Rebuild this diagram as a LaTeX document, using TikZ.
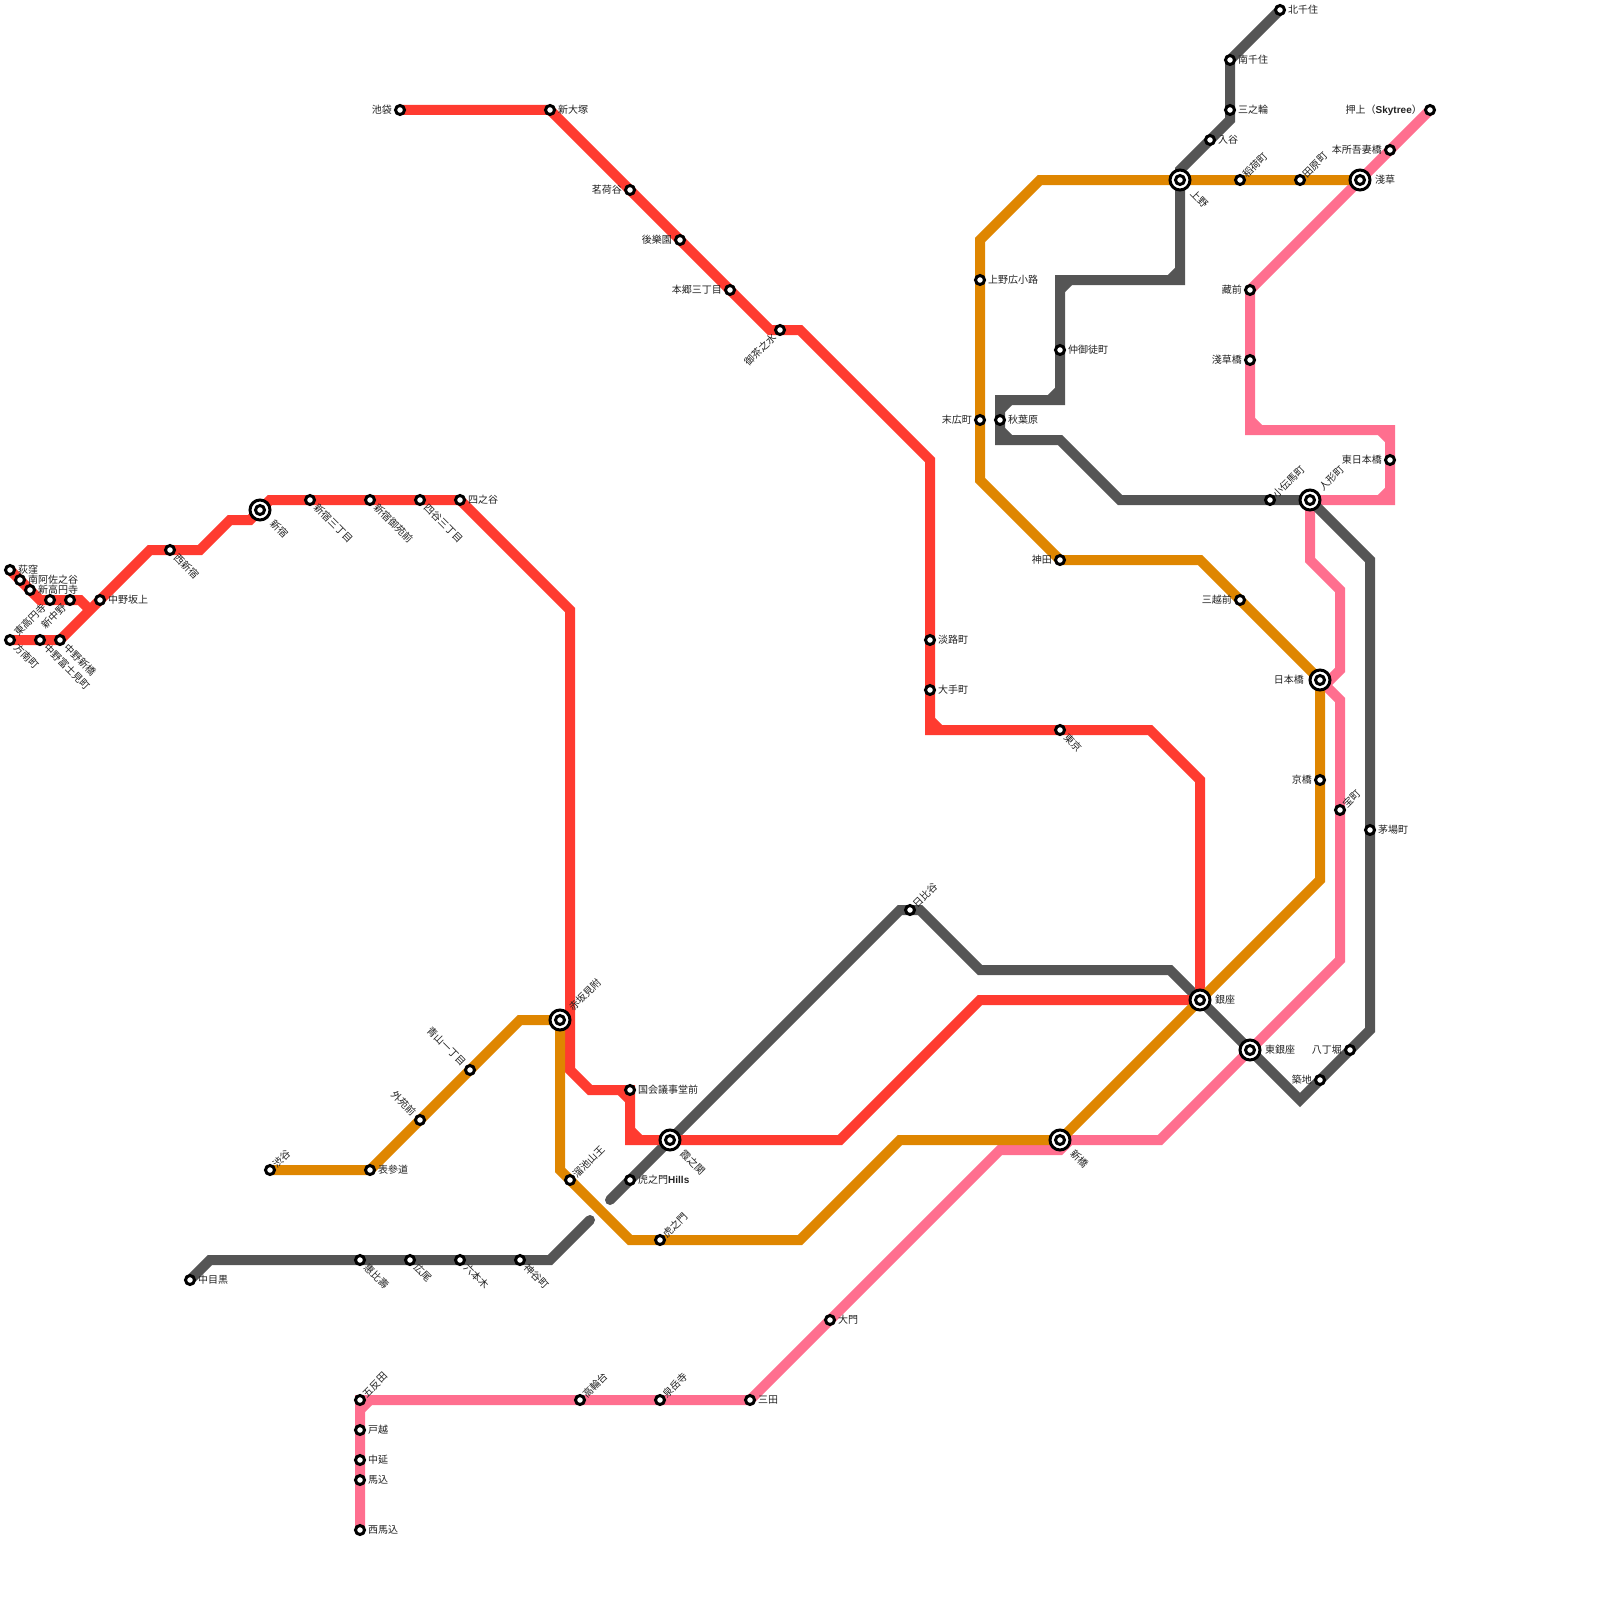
\documentclass[tikz,border=0pt]{standalone}
\usepackage{fontspec}
\setmainfont{Noto Sans CJK JP}
\newfontfamily\latb[BoldFont={Liberation Sans Bold}]{Liberation Sans}
\newcommand{\bl}[1]{{\latb\bfseries #1}}
\usetikzlibrary{backgrounds}
\definecolor{redline}{HTML}{FF3B30}
\definecolor{orangeline}{HTML}{DF8600}
\definecolor{grayline}{HTML}{555555}
\definecolor{pinkline}{HTML}{FF6F8F}
\definecolor{lbltext}{HTML}{222222}
\tikzset{
  line/.style={line width=10pt,line join=miter,line cap=butt},
  rl/.style={line,draw=redline},
  ol/.style={line,draw=orangeline},
  gl/.style={line,draw=grayline},
  pl/.style={line,draw=pinkline},
  stn/.style={circle,draw=black,fill=white,line width=3pt,minimum size=9pt,inner sep=0pt,outer sep=0pt},
  big/.style={circle,draw=black,fill=white,line width=3pt,minimum size=20pt,inner sep=0pt,outer sep=0pt},
  lbl/.style={inner sep=0pt,text=lbltext,font=\fontsize{10}{12}\selectfont},
  R/.style={lbl,anchor=west,xshift=8pt},
  L/.style={lbl,anchor=east,xshift=-8pt},
  UR/.style={lbl,rotate=45,anchor=west,xshift=6pt},
  DR/.style={lbl,rotate=-45,anchor=west,xshift=8pt},
  UL/.style={lbl,rotate=-45,anchor=east,xshift=-8pt},
  BL/.style={lbl,rotate=45,anchor=east,xshift=-8pt},
  bR/.style={lbl,anchor=west,xshift=15pt},
  bL/.style={lbl,anchor=east,xshift=-16pt},
  bUR/.style={lbl,rotate=45,anchor=west,xshift=15pt},
  bDR/.style={lbl,rotate=-45,anchor=west,xshift=17pt},
}
\newcommand{\st}[5]{\node[stn] (#1) at (#2,#3) {}; \node[#4] (#1-t) at (#1.center) {#5};}
\newcommand{\bg}[5]{\node[big] (#1) at (#2,#3) {}; \node[stn] (#1-i) at (#1.center) {}; \node[#4] (#1-t) at (#1.center) {#5};}
\begin{document}
\begin{tikzpicture}[x=1pt,y=-1pt]
\useasboundingbox (0,0) rectangle (1600,1600);
% interchange stations
\bg{shinjuku}{260}{510}{bDR}{新宿}
\bg{akasaka}{560}{1020}{bUR}{赤坂見附}
\bg{kasumi}{670}{1140}{bDR}{霞之関}
\bg{ginza}{1200}{1000}{bR}{銀座}
\bg{higashiginza}{1250}{1050}{bR}{東銀座}
\bg{shinbashi}{1060}{1140}{bDR}{新橋}
\bg{nihonbashi}{1320}{680}{bL}{日本橋}
\bg{ningyo}{1310}{500}{bUR}{人形町}
\bg{ueno}{1180}{180}{bDR}{上野}
\bg{asakusa}{1360}{180}{bR}{淺草}
% Marunouchi
\st{ogikubo}{10}{570}{R}{荻窪}
\st{minamiasa}{20}{580}{R}{南阿佐之谷}
\st{shinkoen}{30}{590}{R}{新高円寺}
\st{higashikoen}{50}{600}{BL}{東高円寺}
\st{shinnakano}{70}{600}{BL}{新中野}
\st{nakanosaka}{100}{600}{R}{中野坂上}
\st{honancho}{10}{640}{DR}{方南町}
\st{fujimi}{40}{640}{DR}{中野富士見町}
\st{nakanoshin}{60}{640}{DR}{中野新橋}
\st{nishishin}{170}{550}{DR}{西新宿}
\st{sanchome}{310}{500}{DR}{新宿三丁目}
\st{gyoen}{370}{500}{DR}{新宿御苑前}
\st{yotsuya3}{420}{500}{DR}{四谷三丁目}
\st{yotsuya}{460}{500}{R}{四之谷}
\st{kokkai}{630}{1090}{R}{国会議事堂前}
\st{tokyo}{1060}{730}{DR}{東京}
\st{otemachi}{930}{690}{R}{大手町}
\st{awaji}{930}{640}{R}{淡路町}
\st{ochanomizu}{780}{330}{BL}{御茶之水}
\st{hongo}{730}{290}{L}{本郷三丁目}
\st{korakuen}{680}{240}{L}{後樂園}
\st{myogadani}{630}{190}{L}{茗荷谷}
\st{shinotsuka}{550}{110}{R}{新大塚}
\st{ikebukuro}{400}{110}{L}{池袋}
% Ginza
\st{shibuya}{270}{1170}{UR}{渋谷}
\st{omote}{370}{1170}{R}{表參道}
\st{gaien}{420}{1120}{UL}{外苑前}
\st{aoyama}{470}{1070}{UL}{青山一丁目}
\st{tameike}{570}{1180}{UR}{溜池山王}
\st{toranomon}{660}{1240}{UR}{虎之門}
\st{kyobashi}{1320}{780}{L}{京橋}
\st{mitsukoshi}{1240}{600}{L}{三越前}
\st{kanda}{1060}{560}{L}{神田}
\st{suehiro}{980}{420}{L}{末広町}
\st{hirokoji}{980}{280}{R}{上野広小路}
\st{inari}{1240}{180}{UR}{稻荷町}
\st{tawara}{1300}{180}{UR}{田原町}
% Hibiya
\st{nakameguro}{190}{1280}{R}{中目黒}
\st{ebisu}{360}{1260}{DR}{惠比壽}
\st{hiroo}{410}{1260}{DR}{広尾}
\st{roppongi}{460}{1260}{DR}{六本木}
\st{kamiya}{520}{1260}{DR}{神谷町}
\st{hills}{630}{1180}{R}{虎之門\bl{Hills}}
\st{hibiya}{910}{910}{UR}{日比谷}
\st{tsukiji}{1320}{1080}{L}{築地}
\st{hatchobori}{1350}{1050}{L}{八丁堀}
\st{kayabacho}{1370}{830}{R}{茅場町}
\st{kodenma}{1270}{500}{UR}{小伝馬町}
\st{akihabara}{1000}{420}{R}{秋葉原}
\st{nakaokachi}{1060}{350}{R}{仲御徒町}
\st{iriya}{1210}{140}{R}{入谷}
\st{minowa}{1230}{110}{R}{三之輪}
\st{minamisenju}{1230}{60}{R}{南千住}
\st{kitasenju}{1280}{10}{R}{北千住}
% Asakusa
\st{nishimagome}{360}{1530}{R}{西馬込}
\st{magome}{360}{1480}{R}{馬込}
\st{nakanobu}{360}{1460}{R}{中延}
\st{togoshi}{360}{1430}{R}{戸越}
\st{gotanda}{360}{1400}{UR}{五反田}
\st{takanawa}{580}{1400}{UR}{高輪台}
\st{sengakuji}{660}{1400}{UR}{泉岳寺}
\st{mita}{750}{1400}{R}{三田}
\st{daimon}{830}{1320}{R}{大門}
\st{takaracho}{1340}{810}{UR}{宝町}
\st{higashinihon}{1390}{460}{L}{東日本橋}
\st{asakusabashi}{1250}{360}{L}{淺草橋}
\st{kuramae}{1250}{290}{L}{藏前}
\st{honjo}{1390}{150}{L}{本所吾妻橋}
\st{oshiage}{1430}{110}{L}{押上（\bl{Skytree}）}
\begin{pgfonlayer}{background}
% Asakusa line
\draw[pl] (nishimagome.center) -- (gotanda.center) -- (mita.center) -- (1000,1150) -- (1060,1150) -- (1070,1140) -- (1160,1140) -- (1340,960) -- (1340,700) -- (nihonbashi.center);
\draw[pl] (1320,690) -- (1340,670) -- (1340,590) -- (1310,560) -- (ningyo.center) -- (1390,500) -- (1390,430) -- (1250,430) -- (kuramae.center) -- (oshiage.center);
\draw[pl] (360,1410) -- (370,1400) (1380,430) -- (1390,440) (1380,500) -- (1390,490) (1250,420) -- (1260,430);
% Hibiya line
\draw[gl,line cap=round] (nakameguro.center) -- (210,1260) -- (550,1260) -- (590,1220);
\draw[gl,line cap=round] (610,1200) -- (900,910) -- (920,910) -- (980,970) -- (1170,970) -- (1300,1100) -- (1370,1030) -- (1370,560) -- (1310,500) -- (1120,500) -- (1060,440) -- (1000,440) -- (1000,400) -- (1060,400) -- (1060,280) -- (1180,280) -- (1180,170) -- (1230,120) -- (minamisenju.center) -- (kitasenju.center);
\draw[gl] (1060,290) -- (1070,280) (1050,400) -- (1060,390) (1000,410) -- (1010,400) (1000,430) -- (1010,440) (1170,280) -- (1180,270);
% Marunouchi line
\draw[rl] (honancho.center) -- (nakanoshin.center) -- (nakanosaka.center) -- (150,550) -- (200,550) -- (230,520) -- (250,520) -- (270,500) -- (yotsuya.center) -- (570,610) -- (570,1070) -- (590,1090) -- (kokkai.center) -- (630,1140) -- (840,1140) -- (980,1000) -- (ginza.center) -- (1200,780) -- (1150,730) -- (930,730) -- (930,460) -- (800,330) -- (770,330) -- (shinotsuka.center) -- (ikebukuro.center);
\draw[rl] (ogikubo.center) -- (40,600) -- (80,600) -- (90,610);
\draw[rl] (620,1090) -- (630,1100) (630,1130) -- (640,1140) (930,720) -- (940,730);
% Ginza line
\draw[ol] (shibuya.center) -- (omote.center) -- (520,1020) -- (akasaka.center) -- (560,1170) -- (630,1240) -- (800,1240) -- (900,1140) -- (shinbashi.center) -- (1320,880) -- (nihonbashi.center) -- (1200,560) -- (kanda.center) -- (980,480) -- (980,240) -- (1040,180) -- (asakusa.center);
\end{pgfonlayer}
\end{tikzpicture}
\end{document}
